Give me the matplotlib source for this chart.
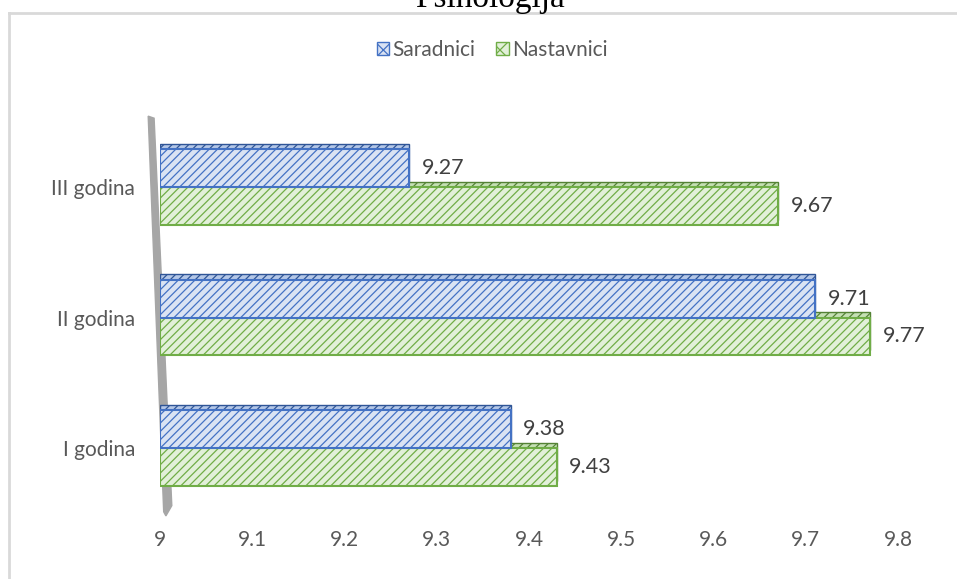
import numpy as np
import matplotlib
matplotlib.use("Agg")
import matplotlib.pyplot as plt
from matplotlib.patches import Patch, Polygon
from matplotlib.lines import Line2D

# data
categories = ["I godina", "II godina", "III godina"]
saradnici = [9.38, 9.71, 9.27]
nastavnici = [9.43, 9.77, 9.67]
xticks = [9, 9.1, 9.2, 9.3, 9.4, 9.5, 9.6, 9.7, 9.8]

plt.rcParams["font.family"] = ["Lato", "DejaVu Sans"]
plt.rcParams["hatch.linewidth"] = 0.9

W, H = 957, 579
fig = plt.figure(figsize=(W / 100, H / 100), dpi=100)

# axes placed in pixel terms
left_px, right_px, top_px, bot_px = 160, 898, 110, 520
ax = fig.add_axes([left_px / W, 1 - bot_px / H,
                   (right_px - left_px) / W, (bot_px - top_px) / H])

base = 9.0
y = np.arange(len(categories))
bh = 0.29
depth = 0.04

blue_edge, blue_face = "#4472c4", "#dae3f3"
green_edge, green_face = "#70ad47", "#e2f0d9"

s_w = np.array(saradnici) - base
n_w = np.array(nastavnici) - base

# top faces (3D look)
ax.barh(y - bh / 2 + depth, n_w, height=bh, left=base, color="#c5e0b4",
        edgecolor="#548235", hatch="////", linewidth=1, zorder=2)
ax.barh(y + bh / 2 + depth, s_w, height=bh, left=base, color="#b4c7e7",
        edgecolor="#2f5597", hatch="////", linewidth=1, zorder=3)

# front faces
ax.barh(y - bh / 2, n_w, height=bh, left=base, color=green_face,
        edgecolor=green_edge, hatch="////", linewidth=1.5, zorder=4)
ax.barh(y + bh / 2, s_w, height=bh, left=base, color=blue_face,
        edgecolor=blue_edge, hatch="////", linewidth=1.5, zorder=5)

# value labels
for yi, v in zip(y, saradnici):
    ax.annotate(f"{v:.2f}", (v, yi + bh / 2), xytext=(9, 0),
                textcoords="offset points", va="center", ha="left",
                fontsize=15.5, color="#404040", zorder=6)
for yi, v in zip(y, nastavnici):
    ax.annotate(f"{v:.2f}", (v, yi - bh / 2), xytext=(9, 0),
                textcoords="offset points", va="center", ha="left",
                fontsize=15.5, color="#404040", zorder=6)

# grey side wall
wall = Polygon([(-0.016, 0.985), (-0.008, 0.98), (0.016, 0.035),
                (0.008, 0.01), (0.005, 0.02)],
               closed=True, transform=ax.transAxes, facecolor="#a6a6a6",
               edgecolor="#a6a6a6", clip_on=False, zorder=1)
ax.add_patch(wall)

ax.set_xlim(9, 9.8)
ax.set_ylim((448 - bot_px) / 130.5, (448 - top_px) / 130.5)
ax.set_xticks(xticks)
ax.set_xticklabels([f"{t:g}" for t in xticks])
ax.set_yticks(y)
ax.set_yticklabels(categories)
ax.tick_params(axis="x", length=0, pad=7, labelsize=15, labelcolor="#595959")
ax.tick_params(axis="y", length=0, pad=18, labelsize=15, labelcolor="#595959")
for s in ax.spines.values():
    s.set_visible(False)
ax.patch.set_alpha(0)

# legend
handles = [Patch(facecolor=blue_face, edgecolor=blue_edge, hatch="xx", label="Saradnici"),
           Patch(facecolor=green_face, edgecolor=green_edge, hatch="xx", label="Nastavnici")]
fig.legend(handles=handles, loc="center", bbox_to_anchor=(492 / W, 1 - 50 / H),
           ncol=2, frameon=False, fontsize=15, handlelength=0.6,
           handleheight=0.6, handletextpad=0.15, columnspacing=1.0,
           labelcolor="#595959")

# chart frame (partly cropped)
fig.add_artist(Line2D([9 / W, 1], [1 - 13 / H, 1 - 13 / H], color="#d9d9d9", lw=2))
fig.add_artist(Line2D([9 / W, 9 / W], [0, 1 - 13 / H], color="#d9d9d9", lw=2))

# title, cut off at the top as in the original
fig.text(490 / W, 1 - 7 / H, "Psihologija", ha="center", va="baseline",
         fontsize=24, family=["Liberation Serif"], color="black")

fig.savefig("out.png", dpi=100)
